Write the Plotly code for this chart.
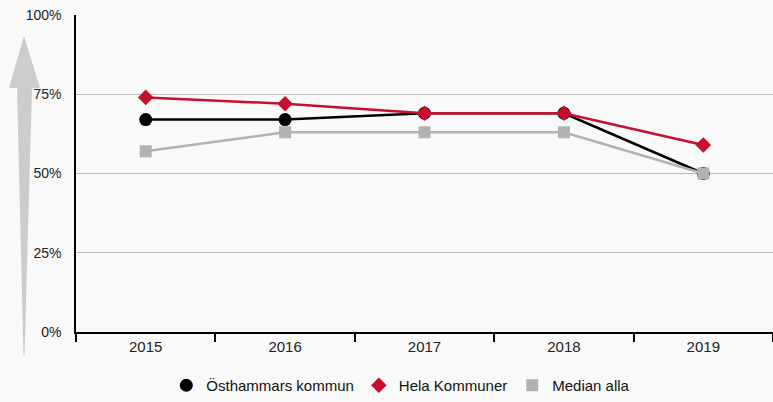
import plotly.graph_objects as go

years = ["2015", "2016", "2017", "2018", "2019"]
osthammar = [67, 67, 69, 69, 50]
hela = [74, 72, 69, 69, 59]
median = [57, 63, 63, 63, 50]
y_ticks = [0, 25, 50, 75, 100]
y_labels = [f"{v}%" for v in y_ticks]

FONT = "Liberation Sans, Arial, sans-serif"
RED = "#c8102e"
GREY = "#b2b2b2"

series = [
    # name, values, colour, symbol, marker size, legend rank
    ("Östhammars kommun", osthammar, "black", "circle", 13, 1),
    ("Median alla", median, GREY, "square", 12, 3),
    ("Hela Kommuner", hela, RED, "diamond", 12, 2),
]

fig = go.Figure()

# Drawing order keeps the red diamonds and grey squares above the black circles
for name, vals, col, sym, size, rank in series:
    fig.add_trace(go.Scatter(
        x=years, y=vals, name=name, mode="lines+markers",
        line=dict(color=col, width=2.5),
        marker=dict(symbol=sym, size=size, color=col),
        showlegend=False,
    ))

# Marker-only legend entries
for name, vals, col, sym, size, rank in series:
    fig.add_trace(go.Scatter(
        x=[None], y=[None], name=name, mode="markers",
        marker=dict(symbol=sym, size=size, color=col),
        legendrank=rank, showlegend=True,
    ))

# Decorative upward arrow to the left of the y axis (paper coordinates)
L, T, B = 76, 15, 332
H = B - T
W = 773 - L
def px(x):
    return (x - L) / W
def py(y):
    return (B - y) / H

arrow = (
    f"M {px(23.5)} {py(355)} "
    f"L {px(17)} {py(88)} "
    f"L {px(9)} {py(88)} "
    f"L {px(24)} {py(36)} "
    f"L {px(40)} {py(88)} "
    f"L {px(32)} {py(88)} "
    f"L {px(24.5)} {py(355)} Z"
)
fig.add_shape(
    type="path", path=arrow, xref="paper", yref="paper",
    fillcolor="#cccccc", line=dict(width=0), layer="above",
)

fig.update_layout(
    width=773, height=402,
    margin=dict(l=76, r=0, t=15, b=70, autoexpand=False),
    paper_bgcolor="#f9f9f9", plot_bgcolor="#f9f9f9",
    font=dict(family=FONT, size=14, color="#222222"),
    showlegend=True,
    legend=dict(
        orientation="h", x=0.466, xanchor="center",
        yref="container", y=0.0, yanchor="bottom",
        font=dict(size=15, color="#111111"), itemwidth=30,
        traceorder="normal", bgcolor="rgba(0,0,0,0)",
    ),
    xaxis=dict(
        type="category", tickson="boundaries", ticks="outside", ticklen=8,
        tickcolor="black", tickwidth=1.5,
        showline=True, linecolor="black", linewidth=1.5,
        showgrid=False, zeroline=False,
        tickfont=dict(size=15, color="#222222"),
        range=[-0.5, 4.5], fixedrange=True,
    ),
    yaxis=dict(
        range=[0, 100], tickvals=y_ticks, ticktext=y_labels,
        showgrid=True, gridcolor="#bdbdbd", gridwidth=1.2,
        showline=True, linecolor="black", linewidth=1.5,
        zeroline=False, ticks="", ticklabelstandoff=10,
        tickfont=dict(size=14, color="#222222"),
    ),
)

fig.write_html("out.html")
